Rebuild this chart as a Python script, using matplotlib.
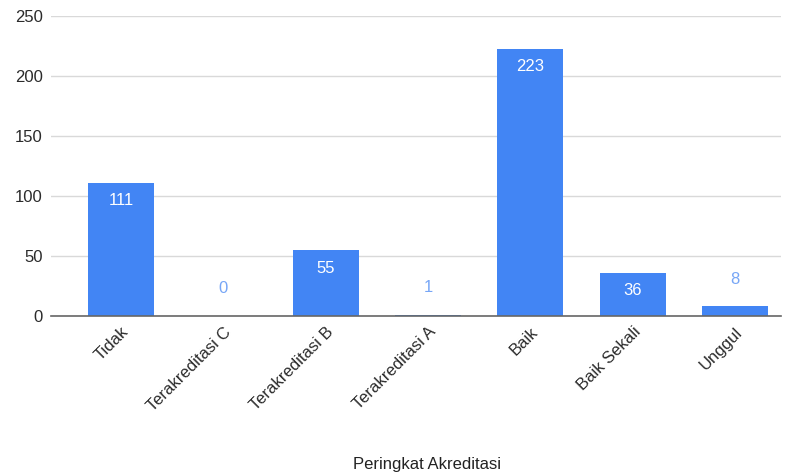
import numpy as np
import matplotlib.pyplot as plt
import matplotlib.transforms as mtransforms

plt.rcParams['font.family'] = ['Liberation Sans', 'DejaVu Sans']

categories = ['Tidak', 'Terakreditasi C', 'Terakreditasi B', 'Terakreditasi A',
              'Baik', 'Baik Sekali', 'Unggul']
counts = [111, 0, 55, 1, 223, 36, 8]
y_ticks = [0, 50, 100, 150, 200, 250]

bar_color = '#4285f4'
label_out = '#77a6f6'

fig = plt.figure(figsize=(7.97, 4.76), dpi=100)
ax = fig.add_axes([0.064, 0.336, 0.916, 0.630])

x = np.arange(len(categories))
ax.bar(x, counts, width=0.645, color=bar_color, zorder=3)

# values: white inside tall bars, light blue above short ones
for xi, v in zip(x, counts):
    if v >= 20:
        ax.annotate(str(v), (xi, v), xytext=(0, -13), textcoords='offset points',
                    ha='center', va='center', color='white', fontsize=12, zorder=4)
    else:
        ax.annotate(str(v), (xi, v), xytext=(0, 19.5), textcoords='offset points',
                    ha='center', va='center', color=label_out, fontsize=12, zorder=4)

ax.set_xlim(-0.684, 6.45)
ax.set_ylim(0, 250)
ax.set_yticks(y_ticks)
ax.set_yticklabels([str(t) for t in y_ticks], fontsize=12, color='#2b2b2b')
ax.grid(axis='y', color='#d9d9d9', linewidth=1, zorder=0)

ax.set_xticks(x)
ax.set_xticklabels(categories, rotation=45, ha='right', rotation_mode='anchor',
                   fontsize=12, color='#2b2b2b')
offset = mtransforms.ScaledTranslation(11 / 72, -7 / 72, fig.dpi_scale_trans)
for lbl in ax.get_xticklabels():
    lbl.set_transform(lbl.get_transform() + offset)

ax.tick_params(axis='both', length=0, pad=6)
for side in ['top', 'right', 'left']:
    ax.spines[side].set_visible(False)
ax.spines['bottom'].set_color('#666666')
ax.spines['bottom'].set_linewidth(1.2)
ax.spines['bottom'].set_zorder(5)

fig.text(427 / 797, 1 - 465 / 476, 'Peringkat Akreditasi', ha='center', va='center',
         fontsize=12, color='#222222')

plt.savefig('out.png', dpi=100)
plt.close()
